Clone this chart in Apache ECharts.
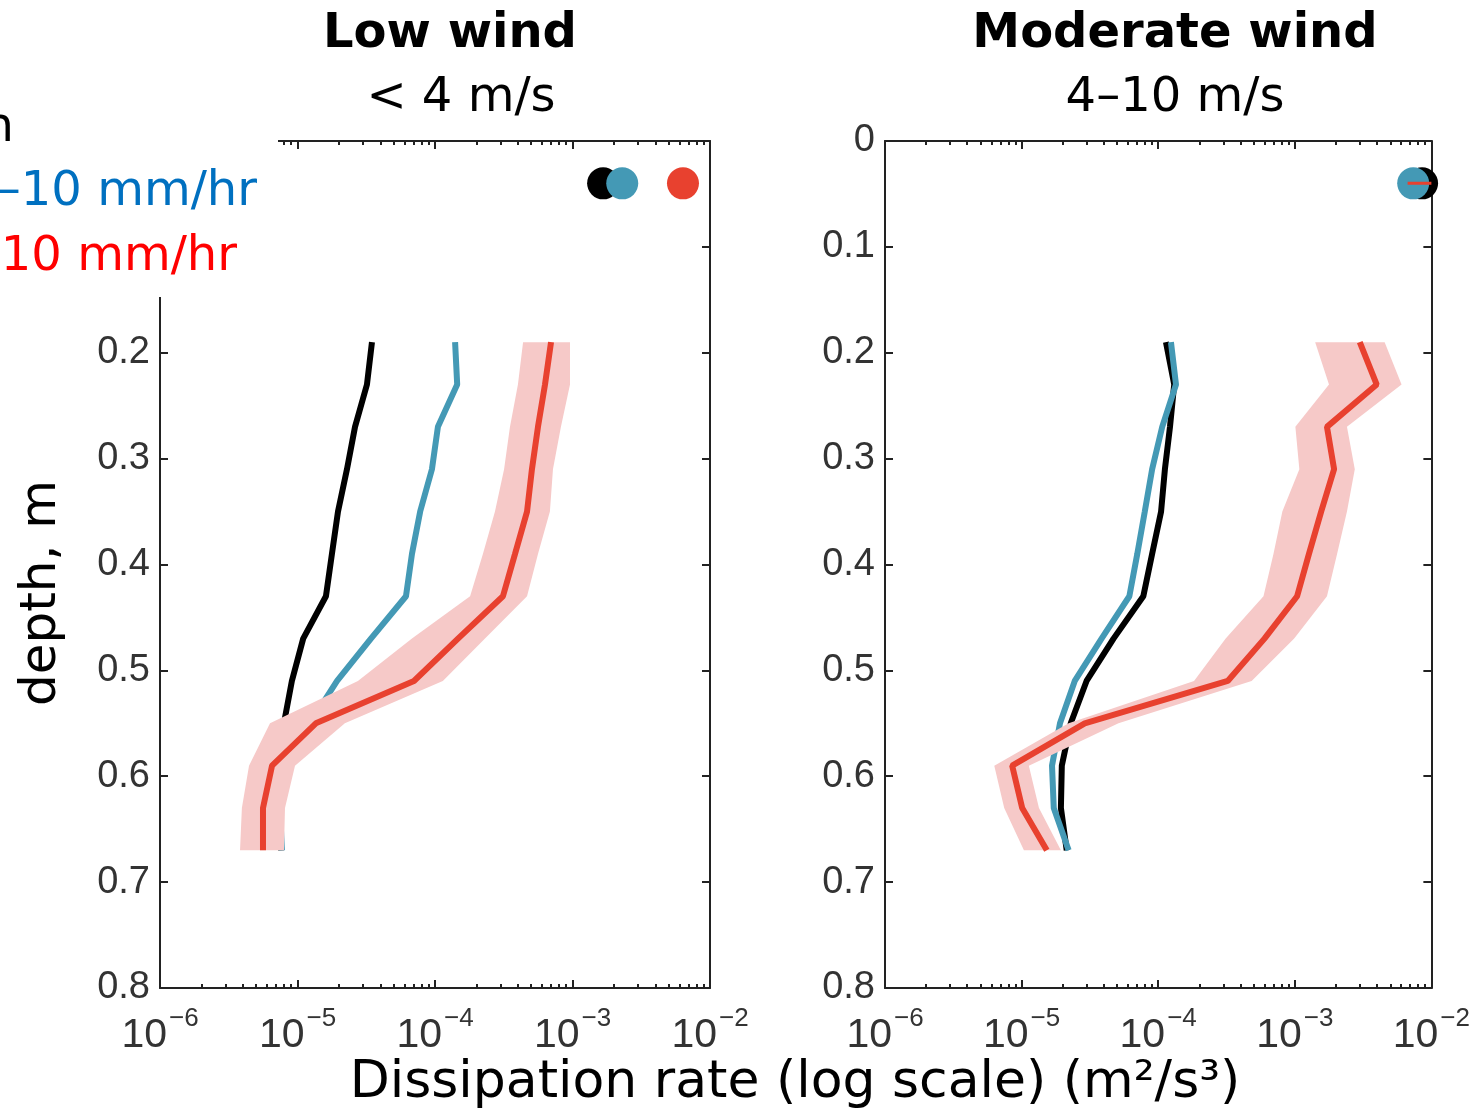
<!DOCTYPE html>
<html>
<head>
<meta charset="utf-8">
<script src="https://cdn.jsdelivr.net/npm/echarts@6/dist/echarts.min.js"></script>
<style>
  html, body { margin: 0; padding: 0; background: #fff; }
  #chart { width: 1473px; height: 1111px; }
</style>
</head>
<body>
<div id="chart"></div>
<script>
// depth levels (m)
const depths = [0.19, 0.23, 0.27, 0.31, 0.35, 0.39, 0.43, 0.47, 0.51, 0.55, 0.59, 0.63, 0.67];
const surfaceDepth = 0.04;

// low wind (< 4 m/s)
const lowNoRain = [3.48e-5, 3.2e-5, 2.62e-5, 2.29e-5, 1.97e-5, 1.78e-5, 1.61e-5, 1.1e-5, 9.1e-6, 7.97e-6, 7.8e-6, 7.46e-6, 7.6e-6];
const lowMid = [1.4e-4, 1.45e-4, 1.05e-4, 9.5e-5, 7.8e-5, 6.8e-5, 6.15e-5, 3.42e-5, 1.94e-5, 1.23e-5, 8.8e-6, 7.46e-6, 7.7e-6];
const lowHeavy = [6.98e-4, 6.31e-4, 5.61e-4, 5.07e-4, 4.67e-4, 3.82e-4, 3.12e-4, 1.47e-4, 7.03e-5, 1.36e-5, 6.53e-6, 5.61e-6, 5.61e-6];
const lowHeavyHi = [9.59e-4, 9.59e-4, 8.24e-4, 7.21e-4, 6.85e-4, 5.61e-4, 4.67e-4, 2.31e-4, 1.14e-4, 2.21e-5, 9.59e-6, 8.11e-6, 7.97e-6];
const lowHeavyLo = [4.37e-4, 4.01e-4, 3.51e-4, 3.18e-4, 2.73e-4, 2.23e-4, 1.8e-4, 6.8e-5, 2.75e-5, 6.31e-6, 4.44e-6, 3.94e-6, 3.82e-6];
const lowSurface = [1.67e-3, 2.3e-3, 6.36e-3]; // no rain, 1-10, >10

// moderate wind (4-10 m/s)
const modNoRain = [1.14e-4, 1.31e-4, 1.22e-4, 1.12e-4, 1.05e-4, 9.03e-5, 7.78e-5, 4.71e-5, 2.99e-5, 2.29e-5, 1.97e-5, 1.94e-5, 2.14e-5];
const modMid = [1.24e-4, 1.35e-4, 1.07e-4, 9.03e-5, 7.98e-5, 7.03e-5, 6.15e-5, 3.85e-5, 2.45e-5, 1.91e-5, 1.67e-5, 1.72e-5, 2.21e-5];
const modHeavy = [2.99e-3, 3.98e-3, 1.72e-3, 1.94e-3, 1.56e-3, 1.27e-3, 1.04e-3, 6.0e-4, 3.23e-4, 2.9e-5, 8.53e-6, 1.01e-5, 1.53e-5];
const modHeavyHi = [4.55e-3, 6.05e-3, 2.41e-3, 2.75e-3, 2.41e-3, 2.04e-3, 1.72e-3, 9.9e-4, 4.83e-4, 5.12e-5, 1.13e-5, 1.34e-5, 1.94e-5];
const modHeavyLo = [1.41e-3, 1.78e-3, 1.01e-3, 1.08e-3, 8.11e-4, 6.98e-4, 5.9e-4, 3.12e-4, 1.83e-4, 2.21e-5, 6.31e-6, 7.46e-6, 1.04e-5];
const modSurface = [8.55e-3, 7.36e-3]; // no rain, 1-10
const modHeavySurfaceRange = [6.7e-3, 1e-2];

const majorTicks = [1e-6, 1e-5, 1e-4, 1e-3, 1e-2];
const minorTicks = [];
for (let n = -6; n <= -3; n++) {
  for (let k = 2; k <= 9; k++) minorTicks.push(+(k * Math.pow(10, n)).toPrecision(3));
}
const depthMin = 0, depthMax = 0.8, depthStep = 0.1;

const C_BLACK = '#000000', C_BLUE = '#4499b5', C_RED = '#e8412f', C_BAND = '#f6c9c8';
const AX = '#222';
const LABEL_FONT = 'Liberation Sans';

function xAxes(grid) {
  const base = {
    type: 'log', logBase: 10, min: 1e-6, max: 1e-2, gridIndex: grid,
    splitLine: { show: false }, minorTick: { show: false }
  };
  const line = show => ({ show: show, onZero: false, lineStyle: { color: AX, width: 2 } });
  return [
    Object.assign({}, base, {
      position: 'bottom',
      axisLine: line(true),
      axisTick: { show: true, inside: true, length: 8, customValues: majorTicks, lineStyle: { color: AX, width: 2 } },
      axisLabel: {
        show: true, margin: 18, customValues: majorTicks,
        formatter: v => '{b|10}{s|' + Math.round(Math.log10(v)).toString().replace('-', '−') + '}',
        rich: {
          b: { fontFamily: LABEL_FONT, fontSize: 41, color: '#333', verticalAlign: 'bottom', lineHeight: 50 },
          s: { fontFamily: LABEL_FONT, fontSize: 26, color: '#333', verticalAlign: 'top', lineHeight: 50, padding: [0, 0, 0, 2] }
        }
      }
    }),
    Object.assign({}, base, {
      position: 'bottom',
      axisLine: line(false),
      axisTick: { show: true, inside: true, length: 4, customValues: minorTicks, lineStyle: { color: AX, width: 2 } },
      axisLabel: { show: false }
    }),
    Object.assign({}, base, {
      position: 'top',
      axisLine: line(true),
      axisTick: { show: true, inside: true, length: 8, customValues: majorTicks, lineStyle: { color: AX, width: 2 } },
      axisLabel: { show: false }
    }),
    Object.assign({}, base, {
      position: 'top',
      axisLine: line(false),
      axisTick: { show: true, inside: true, length: 4, customValues: minorTicks, lineStyle: { color: AX, width: 2 } },
      axisLabel: { show: false }
    })
  ];
}

function yAxes(grid) {
  const base = {
    type: 'value', min: depthMin, max: depthMax, interval: depthStep, inverse: true, gridIndex: grid,
    splitLine: { show: false },
    axisLine: { show: true, onZero: false, lineStyle: { color: AX, width: 2 } },
    axisTick: { show: true, inside: true, length: 8, lineStyle: { color: AX, width: 2 } }
  };
  return [
    Object.assign({}, base, {
      position: 'left',
      axisLabel: { show: true, margin: 10, fontFamily: LABEL_FONT, fontSize: 38, color: '#333',
        formatter: v => (Math.round(v * 10) / 10).toString() }
    }),
    Object.assign({}, base, { position: 'right', axisLabel: { show: false } })
  ];
}

function profile(vals, xi, yi, color, z) {
  return {
    type: 'line', xAxisIndex: xi, yAxisIndex: yi, z: z,
    data: depths.map((d, i) => [vals[i], d]),
    symbol: 'none', lineStyle: { color: color, width: 6 }, silent: true, animation: false
  };
}

function band(hi, lo, xi, yi, z) {
  return {
    type: 'custom', xAxisIndex: xi, yAxisIndex: yi, z: z, silent: true, animation: false,
    data: depths.map((d, i) => [hi[i], d]),
    encode: { x: 0, y: 1 },
    renderItem: (params, api) => {
      if (params.dataIndex !== 0) return null;
      const pts = [];
      depths.forEach((d, i) => pts.push(api.coord([hi[i], d])));
      for (let i = depths.length - 1; i >= 0; i--) pts.push(api.coord([lo[i], depths[i]]));
      return { type: 'polygon', shape: { points: pts }, style: { fill: C_BAND } };
    }
  };
}

function dot(x, xi, yi, color, z) {
  return {
    type: 'scatter', xAxisIndex: xi, yAxisIndex: yi, z: z, clip: false, silent: true, animation: false,
    data: [[x, surfaceDepth]], symbol: 'circle', symbolSize: 32, itemStyle: { color: color, opacity: 1 }
  };
}

const chart = echarts.init(document.getElementById('chart'));
chart.setOption({
  backgroundColor: '#fff',
  animation: false,
  grid: [
    { left: 160, top: 141, width: 550, height: 847, containLabel: false },
    { left: 885, top: 141, width: 550, height: 847, containLabel: false }
  ],
  xAxis: xAxes(0).concat(xAxes(1)),
  yAxis: yAxes(0).concat(yAxes(1)),
  series: [
    profile(lowNoRain, 0, 0, C_BLACK, 2),
    profile(lowMid, 0, 0, C_BLUE, 3),
    band(lowHeavyHi, lowHeavyLo, 0, 0, 4),
    profile(lowHeavy, 0, 0, C_RED, 5),
    dot(lowSurface[0], 0, 0, C_BLACK, 6),
    dot(lowSurface[1], 0, 0, C_BLUE, 7),
    dot(lowSurface[2], 0, 0, C_RED, 7),

    profile(modNoRain, 4, 2, C_BLACK, 2),
    profile(modMid, 4, 2, C_BLUE, 3),
    band(modHeavyHi, modHeavyLo, 4, 2, 4),
    profile(modHeavy, 4, 2, C_RED, 5),
    dot(modSurface[0], 4, 2, C_BLACK, 6),
    dot(modSurface[1], 4, 2, C_BLUE, 7),
    {
      type: 'line', xAxisIndex: 4, yAxisIndex: 2, z: 8, silent: true, animation: false,
      data: modHeavySurfaceRange.map(v => [v, surfaceDepth]),
      symbol: 'none', lineStyle: { color: C_RED, width: 3 }
    }
  ],
  graphic: [
    // legend box covering the upper-left corner of the first panel
    { type: 'rect', z: 100, shape: { x: 0, y: 0, width: 278, height: 297 }, style: { fill: '#fff' } },
    { type: 'text', z: 101, x: 14, y: 129, style: { text: 'No rain', fill: '#000', font: '48px "DejaVu Sans"', textAlign: 'right', textVerticalAlign: 'middle' } },
    { type: 'text', z: 101, x: 257, y: 193, style: { text: '1–10 mm/hr', fill: '#0070c0', font: '48px "DejaVu Sans"', textAlign: 'right', textVerticalAlign: 'middle' } },
    { type: 'text', z: 101, x: 237, y: 258, style: { text: '>10 mm/hr', fill: '#ff0000', font: '48px "DejaVu Sans"', textAlign: 'right', textVerticalAlign: 'middle' } },

    // panel titles
    { type: 'text', z: 101, x: 450, y: 35, style: { text: 'Low wind', fill: '#000', font: 'bold 48px "DejaVu Sans"', textAlign: 'center', textVerticalAlign: 'middle' } },
    { type: 'text', z: 101, x: 461, y: 99, style: { text: '< 4 m/s', fill: '#000', font: '48px "DejaVu Sans"', textAlign: 'center', textVerticalAlign: 'middle' } },
    { type: 'text', z: 101, x: 1175, y: 35, style: { text: 'Moderate wind', fill: '#000', font: 'bold 48px "DejaVu Sans"', textAlign: 'center', textVerticalAlign: 'middle' } },
    { type: 'text', z: 101, x: 1175, y: 99, style: { text: '4–10 m/s', fill: '#000', font: '48px "DejaVu Sans"', textAlign: 'center', textVerticalAlign: 'middle' } },

    // axis names
    { type: 'text', z: 101, x: 795, y: 1083, style: { text: 'Dissipation rate (log scale) (m²/s³)', fill: '#000', font: '52px "DejaVu Sans"', textAlign: 'center', textVerticalAlign: 'middle' } },
    { type: 'text', z: 101, x: 42, y: 593, rotation: Math.PI / 2, style: { text: 'depth, m', fill: '#000', font: '50px "DejaVu Sans"', textAlign: 'center', textVerticalAlign: 'middle' } }
  ]
});
</script>
</body>
</html>
